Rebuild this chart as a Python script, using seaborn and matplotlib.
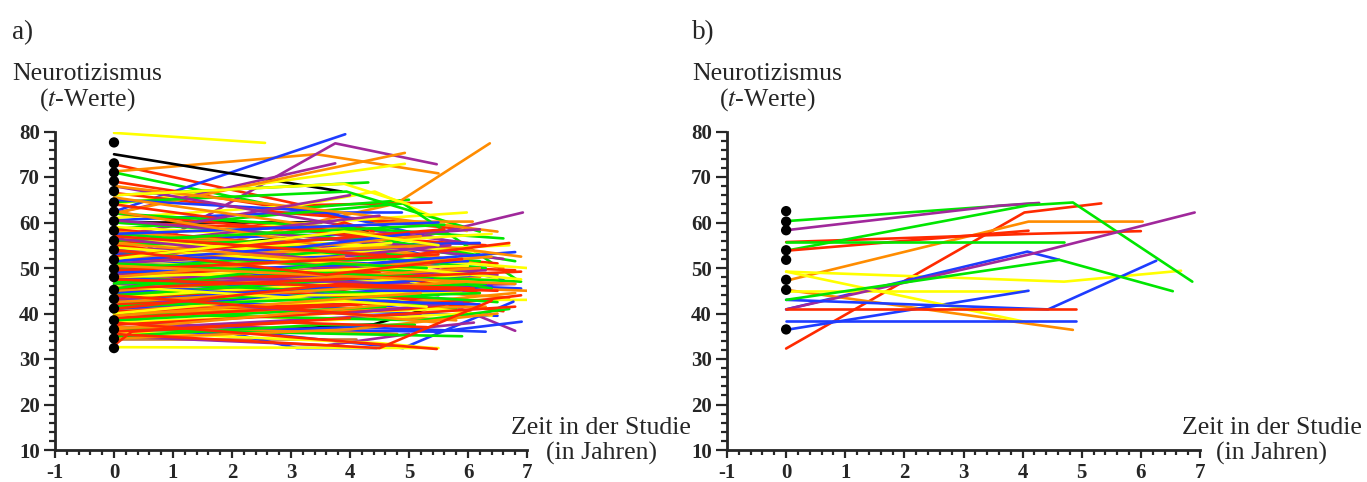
import pandas as pd
import seaborn as sns
import matplotlib.pyplot as plt
from matplotlib.ticker import MultipleLocator

sns.set_style("ticks")
plt.rcParams['font.family'] = ['Liberation Serif', 'DejaVu Serif']
plt.rcParams['mathtext.fontset'] = 'stix'
plt.rcParams['axes.unicode_minus'] = False

COLORS = {"red": "#ff2a00", "orange": "#ff8c00", "yellow": "#ffff00", "green": "#00e600",
          "blue": "#1e3cff", "purple": "#a0289b", "black": "#000000", "brown": "#c8783c"}

# ---- panel a: each line = t0, v0, t1, v1 [, t2, v2 ...]
a_red = [
    [0, 72.8, 3.2, 63.8, 5.38, 64.4], [0, 69.0, 4.2, 60.5, 6.0, 58.5], [0, 66.5, 3.0, 62.0, 5.0, 60.0],
    [0, 64.0, 4.0, 57.0, 6.3, 55.0], [0, 62.0, 5.5, 55.5], [0, 60.0, 3.5, 58.5, 3.9, 60.0, 4.4, 58.0],
    [0, 58.5, 6.5, 51.0], [0, 56.0, 4.6, 53.0], [0, 55.0, 2.5, 51.5, 5.8, 48.0], [0, 53.0, 6.8, 49.5],
    [0, 51.5, 4.0, 54.0], [0, 50.0, 5.2, 46.0], [0, 48.5, 3.8, 50.5, 6.2, 44.5], [0, 47.0, 4.5, 49.0],
    [0, 46.0, 6.0, 43.0], [0, 44.5, 5.0, 47.0], [0, 43.0, 3.5, 45.5, 6.6, 40.5], [0, 42.0, 4.8, 44.0],
    [0, 40.5, 6.4, 43.0], [0, 39.0, 4.2, 42.0], [0, 37.5, 5.0, 41.0, 6.9, 44.0], [0, 36.0, 3.0, 38.0, 5.3, 37.0],
    [0, 33.0, 0.3, 36.0, 4.0, 39.0], [0, 38.0, 5.47, 32.2], [0, 35.5, 4.5, 32.4, 6.4, 42.8],
    [0, 52.5, 5.6, 58.5], [0, 45.5, 6.9, 49.2],
    [0, 57.0, 4.8, 52.5, 6.7, 55.5], [0, 49.5, 5.5, 53.0], [0, 41.0, 3.8, 46.5, 6.1, 45.5],
    [0, 47.5, 6.5, 45.0], [0, 54.0, 3.6, 48.5, 5.9, 52.0], [0, 44.0, 4.4, 39.5, 6.8, 41.5],
]
a_orange = [
    [0, 71.2, 3.43, 75.0, 5.5, 70.8], [0, 50.0, 4.79, 64.2, 6.37, 77.4], [0, 62.0, 4.93, 75.3],
    [0, 54.5, 4.9, 60.2, 6.08, 60.2], [0, 68.0, 4.0, 62.0, 6.5, 58.0], [0, 65.5, 3.0, 60.0, 5.0, 56.5],
    [0, 58.0, 5.5, 52.5], [0, 56.5, 4.2, 55.0, 6.6, 50.0], [0, 53.5, 6.2, 48.0], [0, 51.0, 3.5, 49.0, 5.8, 51.5],
    [0, 49.0, 4.6, 46.0], [0, 47.5, 6.0, 45.5, 7.0, 45.0], [0, 46.0, 5.0, 42.0], [0, 44.0, 3.8, 46.0, 6.7, 43.5],
    [0, 43.0, 5.8, 38.5], [0, 41.5, 4.4, 40.5], [0, 40.0, 6.3, 41.5], [0, 38.5, 3.0, 41.0, 5.5, 38.0],
    [0, 37.0, 4.8, 35.5], [0, 34.5, 4.0, 36.5, 6.5, 40.0], [0, 36.5, 6.8, 44.5], [0, 62.5, 3.5, 55.0, 5.2, 57.0],
    [0, 45.0, 6.2, 50.0],
    [0, 52.0, 5.4, 55.0, 6.9, 52.5], [0, 48.0, 3.9, 52.5], [0, 42.5, 6.0, 47.0],
    [0, 55.5, 4.5, 50.5, 6.4, 52.5], [0, 39.5, 5.2, 44.5], [0, 50.5, 6.8, 46.5],
]
a_yellow = [
    [0, 79.7, 2.56, 77.5], [0, 64.0, 4.93, 72.9], [0, 61.0, 3.15, 63.8, 4.42, 66.8, 5.98, 58.1],
    [0, 57.0, 5.98, 62.2], [0, 66.0, 3.9, 68.5, 5.0, 64.0], [0, 59.0, 4.5, 56.0, 6.4, 57.5],
    [0, 55.5, 6.0, 52.0], [0, 53.0, 3.5, 55.5, 6.3, 53.5], [0, 50.5, 5.0, 52.0, 7.0, 50.0], [0, 49.0, 4.2, 47.0],
    [0, 47.0, 3.0, 49.5, 5.5, 46.5], [0, 45.5, 6.5, 47.5], [0, 44.0, 4.0, 43.0, 7.05, 43.0], [0, 42.5, 5.5, 45.0],
    [0, 41.0, 3.6, 38.5, 6.0, 40.0], [0, 39.5, 4.8, 43.5], [0, 38.0, 5.5, 41.0, 6.4, 39.5],
    [0, 36.0, 4.5, 33.5, 5.4, 32.4], [0, 32.6, 5.5, 32.4], [0, 51.0, 6.7, 55.0], [0, 56.5, 3.0, 53.5, 4.7, 55.5],
    [0, 43.5, 6.0, 48.5],
    [0, 54.5, 4.9, 50.0, 6.9, 47.5], [0, 48.0, 6.0, 50.5], [0, 40.0, 3.3, 44.0, 5.9, 44.5],
    [0, 46.0, 5.3, 41.5], [0, 52.0, 3.9, 58.0, 5.5, 55.0],
]
a_green = [
    [0, 71.0, 3.0, 63.0, 5.0, 65.0], [0, 66.0, 4.31, 68.8], [0, 64.5, 3.94, 66.8, 6.2, 58.0],
    [0, 58.5, 4.9, 64.2, 6.88, 47.0], [0, 62.0, 5.0, 58.0, 6.6, 56.5], [0, 60.0, 3.5, 57.0, 5.8, 53.0],
    [0, 57.5, 6.2, 51.5], [0, 55.0, 4.4, 56.5, 6.8, 51.5], [0, 53.5, 3.0, 51.0, 5.4, 49.0], [0, 52.0, 6.0, 54.5],
    [0, 50.0, 4.6, 52.0], [0, 48.0, 5.5, 45.0], [0, 46.5, 3.6, 49.0, 6.9, 47.0], [0, 45.0, 4.8, 42.5],
    [0, 43.5, 6.3, 46.5], [0, 42.0, 3.2, 44.0, 5.8, 41.0], [0, 40.0, 5.2, 38.5, 6.7, 41.0], [0, 38.5, 4.6, 41.5],
    [0, 36.5, 5.9, 35.0], [0, 35.0, 3.5, 37.5, 5.1, 37.5], [0, 49.5, 3.5, 53.5, 6.3, 50.0],
    [0, 44.0, 5.0, 48.5, 6.4, 45.5],
    [0, 56.0, 5.6, 59.5], [0, 47.0, 4.2, 44.5, 6.5, 42.5], [0, 51.0, 5.8, 47.5], [0, 41.5, 6.2, 44.5],
    [0, 45.5, 3.7, 51.0, 5.3, 50.0],
]
a_blue = [
    [0, 62.4, 3.92, 79.4], [0, 60.5, 3.0, 62.2, 4.88, 62.2], [0, 65.0, 3.5, 62.5, 5.8, 55.5],
    [0, 56.0, 4.0, 57.5, 5.2, 53.0], [0, 54.0, 6.2, 55.5], [0, 52.5, 3.3, 49.0, 5.5, 51.0],
    [0, 50.5, 4.5, 53.0, 6.6, 47.5], [0, 48.5, 5.0, 48.0], [0, 46.5, 3.8, 49.5, 6.0, 44.0],
    [0, 45.0, 5.9, 46.0, 6.9, 45.5], [0, 43.5, 4.2, 41.0, 5.6, 43.0], [0, 42.0, 6.5, 39.5],
    [0, 40.5, 3.5, 44.5, 5.5, 41.5], [0, 39.0, 4.9, 32.4, 6.77, 42.6], [0, 38.4, 1.74, 36.4, 3.1, 32.4, 4.45, 32.4],
    [0, 37.0, 5.5, 36.0, 6.91, 38.2], [0, 35.0, 4.0, 37.0, 6.3, 36.0], [0, 44.5, 6.2, 48.5],
    [0, 48.0, 4.7, 44.0, 6.4, 46.0], [0, 57.5, 5.5, 60.0], [0, 41.0, 4.4, 45.0, 5.4, 45.0],
    [0, 53.0, 4.3, 51.0, 6.8, 53.5], [0, 49.0, 6.0, 51.5], [0, 46.0, 4.9, 42.5, 6.2, 42.0],
    [0, 42.5, 5.4, 47.5], [0, 51.5, 3.1, 54.5, 5.0, 57.5],
]
a_purple = [
    [0, 50.0, 3.75, 77.4, 5.47, 72.8], [0, 62.0, 3.75, 73.0], [0, 47.5, 5.36, 57.3, 6.93, 62.2],
    [0, 68.0, 4.5, 58.0, 6.0, 55.5], [0, 57.0, 4.0, 66.0], [0, 55.0, 4.5, 61.5], [0, 52.0, 3.0, 56.0, 5.5, 50.0],
    [0, 49.5, 4.0, 46.5, 6.5, 48.5], [0, 47.0, 5.0, 51.0], [0, 45.5, 3.4, 43.0, 6.0, 45.0], [0, 44.0, 6.8, 46.5],
    [0, 42.5, 4.2, 46.0, 5.5, 44.0], [0, 41.0, 5.6, 42.5, 6.8, 36.2], [0, 39.5, 3.8, 42.0],
    [0, 38.0, 4.6, 36.0, 6.1, 38.0], [0, 36.5, 5.2, 40.0], [0, 35.0, 3.6, 33.0, 5.0, 35.5], [0, 60.5, 5.8, 54.0],
    [0, 53.5, 6.2, 58.5],
    [0, 51.0, 4.8, 54.5, 6.6, 52.0], [0, 46.0, 6.3, 49.5], [0, 43.5, 3.9, 40.0, 5.9, 42.5],
    [0, 48.5, 5.0, 46.5], [0, 56.5, 3.4, 52.0, 5.7, 55.0],
]
a_black = [
    [0, 75.0, 3.86, 66.8], [0, 60.2, 3.5, 60.2], [0, 51.8, 1.63, 55.1, 4.3, 58.1],
    [0, 34.6, 4.4, 37.6, 5.9, 43.3], [0, 43.0, 3.0, 45.5, 5.9, 46.5],
]
a_brown = [[0, 34.3, 4.1, 34.3]]
a_dots = [77.6, 73.0, 71.0, 69.1, 66.9, 64.4, 62.4, 60.3, 58.2, 56.0, 54.0, 51.8, 49.8, 48.0,
          45.2, 43.2, 41.1, 38.5, 36.5, 34.5, 32.4]

# ---- panel b
b_red = [[0, 32.3, 4.03, 62.2, 5.33, 64.2], [0, 55.7, 4.1, 57.5, 6.0, 58.1], [0, 53.8, 4.1, 58.2], [0, 40.9, 4.9, 40.9]]
b_orange = [[0, 47.2, 4.1, 60.2, 6.03, 60.2], [0, 45.2, 4.85, 36.4]]
b_yellow = [[0, 49.2, 4.7, 47.0, 6.68, 49.4], [0, 45.0, 4.03, 45.0], [0, 49.2, 4.03, 38.2]]
b_green = [[0, 60.3, 4.2, 64.2], [0, 53.8, 4.1, 63.8, 4.85, 64.4, 6.87, 47.0], [0, 55.7, 4.7, 55.7],
           [0, 43.0, 4.62, 51.8, 6.54, 44.9]]
b_blue = [[0, 40.9, 4.08, 53.6, 4.62, 51.8], [0, 36.4, 4.1, 45.0], [0, 43.0, 4.43, 40.9, 6.26, 51.6],
          [0, 38.4, 4.9, 38.4]]
b_purple = [[0, 58.3, 3.6, 63.7, 4.28, 64.3], [0, 40.9, 4.12, 53.0, 6.91, 62.2]]
b_dots = [62.5, 60.2, 58.3, 53.9, 51.8, 47.4, 45.2, 36.5]


def to_long(groups):
    # interleave colours so no colour sits entirely on top
    items = []
    for color, lines in groups.items():
        for i, ln in enumerate(lines):
            items.append((i, color, ln))
    items.sort(key=lambda x: x[0])
    rows, pal = [], {}
    for i, color, ln in items:
        lid = f"{color}_{i}"
        pal[lid] = COLORS[color]
        for j in range(0, len(ln), 2):
            rows.append({"id": lid, "t": ln[j], "v": ln[j + 1]})
    return pd.DataFrame(rows), pal


def style_axis(ax):
    ax.set_xlim(-1, 7)
    ax.set_ylim(10, 80)
    ax.set_xticks(range(-1, 8))
    ax.set_yticks(range(10, 81, 10))
    ax.xaxis.set_minor_locator(MultipleLocator(0.2))
    ax.yaxis.set_minor_locator(MultipleLocator(2))
    sns.despine(ax=ax)
    for s in ("left", "bottom"):
        ax.spines[s].set_linewidth(2)
    ax.tick_params(axis="x", which="major", length=5.5, width=1.6, pad=4, labelsize=15)
    ax.tick_params(axis="x", which="minor", length=3.5, width=1.6)
    ax.tick_params(axis="y", which="major", length=8, width=1.6, pad=3, labelsize=15)
    ax.tick_params(axis="y", which="minor", length=4, width=1.6)
    for lbl in ax.get_xticklabels() + ax.get_yticklabels():
        lbl.set_fontweight("bold")
    ax.set_xlabel("")
    ax.set_ylabel("")


W, H = 1367, 482
fig = plt.figure(figsize=(W / 100, H / 100), dpi=100)
ax_a = fig.add_axes([55 / W, 1 - 450 / H, 472 / W, 318.5 / H])
ax_b = fig.add_axes([727 / W, 1 - 450 / H, 473 / W, 318.5 / H])

panels = [
    (ax_a, {"red": a_red, "orange": a_orange, "yellow": a_yellow, "green": a_green,
            "blue": a_blue, "purple": a_purple, "black": a_black, "brown": a_brown}, a_dots),
    (ax_b, {"red": b_red, "orange": b_orange, "yellow": b_yellow, "green": b_green,
            "blue": b_blue, "purple": b_purple}, b_dots),
]
for ax, groups, dots in panels:
    df, pal = to_long(groups)
    sns.lineplot(data=df, x="t", y="v", hue="id", units="id", estimator=None, palette=pal,
                 hue_order=list(pal), sort=False, legend=False, lw=1.9, ax=ax)
    sns.scatterplot(x=[0] * len(dots), y=dots, color="black", s=55, edgecolor="none",
                    zorder=5, ax=ax, clip_on=False)
    style_axis(ax)

fs = 18.5
for x0, lab in [(0, "a)"), (680, "b)")]:
    fig.text((x0 + 12) / W, 1 - 39 / H, lab, fontsize=fs + 1, va="baseline")
    fig.text((x0 + 87) / W, 1 - 80 / H, "Neurotizismus", fontsize=fs, ha="center", va="baseline")
    fig.text((x0 + 87) / W, 1 - 106 / H, r"($\it{t}$-Werte)", fontsize=fs, ha="center", va="baseline")
for xc in (601, 1272):
    fig.text(xc / W, 1 - 434 / H, "Zeit in der Studie", fontsize=fs, ha="center", va="baseline")
    fig.text(xc / W, 1 - 460 / H, "(in Jahren)", fontsize=fs, ha="center", va="baseline")

fig.savefig("out.png", dpi=100)
